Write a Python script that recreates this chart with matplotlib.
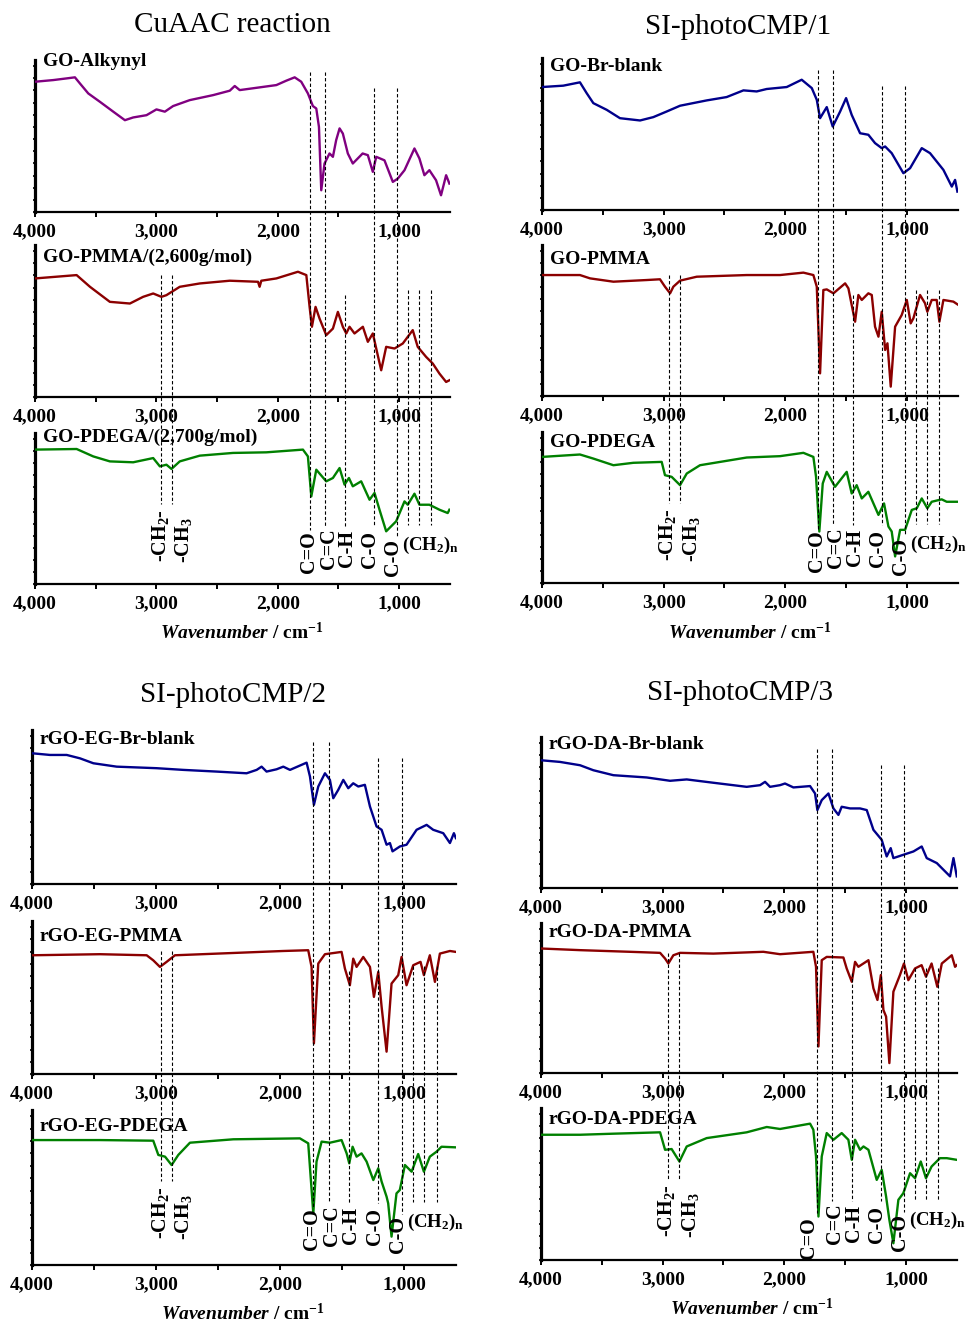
import matplotlib
matplotlib.use("Agg")
import matplotlib.pyplot as plt
from matplotlib.ticker import MultipleLocator, FuncFormatter

plt.rcParams["font.family"] = ["Liberation Serif", "DejaVu Serif"]
plt.rcParams["font.weight"] = "bold"
plt.rcParams["mathtext.fontset"] = "custom"
plt.rcParams["mathtext.default"] = "regular"
plt.rcParams["mathtext.rm"] = "Liberation Serif:bold"
plt.rcParams["mathtext.it"] = "Liberation Serif:italic:bold"

# ---------------- data (wavenumber / cm-1, transmittance a.u.) ----------------
# CuAAC reaction
go_alkynyl_wn = [4000, 3849, 3739, 3671, 3630, 3561, 3465, 3355, 3259, 3191, 3081, 2999, 2930, 2862,
                 2725, 2532, 2395, 2354, 2313, 2148, 2011, 1929, 1860, 1806, 1751, 1710, 1682, 1660,
                 1641, 1614, 1573, 1545, 1518, 1490, 1463, 1422, 1381, 1300, 1257, 1216, 1188, 1120,
                 1051, 1010, 955, 873, 832, 791, 750, 695, 654, 612, 585]
go_alkynyl_t = [85.7, 86.8, 87.9, 88.6, 84.6, 78, 72.5, 66, 60.4, 62.2, 63.7, 67.5, 66, 69.7,
                73.6, 76.9, 79.8, 82.9, 80.2, 82, 83.5, 86.4, 88.6, 85.7, 78, 69.7, 68.1, 56,
                14.3, 31.9, 38.5, 36.3, 47.3, 55, 51.6, 38.5, 31.9, 38.5, 37.4, 26.4, 36.3, 34,
                19.8, 22, 27.5, 41.8, 35.2, 24.2, 27.5, 20.9, 11, 24.2, 18.7]

go_pmma_2600_wn = [4000, 3657, 3547, 3383, 3218, 3109, 3026, 2958, 2917, 2807, 2642, 2395, 2162, 2149,
                   2135, 2011, 1833, 1764, 1737, 1718, 1688, 1655, 1600, 1545, 1504, 1463, 1435, 1408,
                   1367, 1298, 1257, 1216, 1188, 1147, 1106, 1037, 969, 887, 846, 777, 722, 667, 612, 585]
go_pmma_2600_t = [78, 80.2, 72.5, 62.6, 61.5, 65.9, 68.1, 65.9, 67, 72.5, 74.7, 76.5, 75.8, 72.5,
                  76.5, 78, 82.4, 80.2, 59.3, 46.2, 59.3, 51.6, 40.7, 45, 56, 46.2, 41.8, 46.2,
                  41.8, 46.2, 36.3, 41.8, 31.9, 17.6, 33, 31.9, 35.2, 44, 33, 26.4, 22, 15.4, 9.9, 11]

go_pdega_2700_wn = [4000, 3657, 3520, 3383, 3191, 3026, 2971, 2917, 2875, 2807, 2642, 2368, 2094,
                    1792, 1751, 1723, 1682, 1600, 1545, 1490, 1449, 1413, 1381, 1312, 1243, 1202,
                    1161, 1106, 1024, 955, 928, 873, 832, 750, 667, 599, 585]
go_pdega_2700_t = [89, 89.4, 84.5, 81.2, 80.6, 83.4, 77.9, 79, 76.2, 81.2, 85, 86.8, 87.2,
                   89, 84.5, 58, 75.7, 68, 70.2, 76.8, 65.8, 70.2, 64.7, 68, 55.8, 60.3,
                   49.2, 34.9, 41.5, 54.7, 52.5, 59.8, 52.5, 52.5, 49.2, 47, 49.2]

# SI-photoCMP/1
go_br_blank_wn = [4000, 3825, 3688, 3633, 3578, 3468, 3359, 3194, 3085, 2975, 2865, 2646, 2482, 2344,
                  2235, 2153, 1988, 1865, 1782, 1741, 1714, 1659, 1610, 1549, 1500, 1454, 1385, 1317,
                  1262, 1207, 1179, 1125, 1029, 974, 878, 810, 700, 631, 604, 585]
go_br_blank_t = [80.9, 81.8, 84, 76.9, 70.3, 65.9, 60.4, 58.9, 61.1, 64.8, 68.6, 72.1, 74.3, 78.7,
                 78, 79.6, 80.9, 85.7, 80.2, 72.5, 60.4, 67.7, 54.9, 64.8, 73.6, 62.6, 50.5, 49.5,
                 44, 40.7, 41.8, 37.4, 24.2, 27.5, 40.7, 37.4, 26.4, 15.4, 19.8, 12.1]

go_pmma_wn = [4000, 3688, 3605, 3413, 3139, 3030, 2989, 2947, 2920, 2865, 2728, 2317, 2043, 1851,
              1769, 1741, 1714, 1687, 1659, 1604, 1508, 1481, 1454, 1426, 1399, 1371, 1317, 1289,
              1262, 1234, 1207, 1179, 1160, 1133, 1097, 1043, 1001, 969, 947, 892, 851, 832,
              796, 755, 733, 700, 618, 577]
go_pmma_t = [80.1, 80.1, 77.9, 75.7, 76.8, 77.3, 72.4, 68, 72.4, 76.4, 79, 80.1, 80.1, 81.7,
             80.1, 72.4, 15, 70.2, 70.6, 68, 74.6, 71.3, 60.3, 49.2, 66.9, 63.6, 68, 66.9,
             45.9, 39.3, 55.8, 30.5, 34.9, 6.2, 45.9, 53.6, 63.6, 48.1, 51.4, 66.9, 61.4, 55.8,
             63.6, 63.6, 49.2, 63.6, 62.5, 60.3]

go_pdega_wn = [4000, 3688, 3578, 3413, 3249, 3016, 2989, 2934, 2865, 2810, 2701, 2317, 2043, 1851,
               1769, 1747, 1720, 1692, 1659, 1591, 1495, 1454, 1413, 1371, 1317, 1234, 1188, 1152,
               1125, 1097, 1056, 1015, 960, 919, 878, 832, 796, 714, 673, 577]
go_pdega_t = [83.5, 85.1, 82.4, 78, 79.6, 80.2, 71.4, 70.3, 64.8, 72.5, 78, 83.1, 84, 86.2,
              83.5, 70.3, 34.1, 65.9, 73.6, 63.7, 73.6, 59.3, 64.8, 56, 60.4, 45.1, 52.7, 37.4,
              34.1, 17.6, 35.2, 35.2, 48.4, 49.5, 56, 49.5, 53.8, 55.4, 53.8, 53.8]

# SI-photoCMP/2
rgo_eg_br_blank_wn = [4000, 3855, 3720, 3613, 3505, 3317, 2995, 2780, 2511, 2269, 2188, 2148, 2108,
                      2027, 1973, 1919, 1785, 1758, 1726, 1691, 1637, 1597, 1570, 1530, 1489, 1449,
                      1409, 1368, 1315, 1274, 1221, 1180, 1140, 1113, 1092, 1032, 979, 898, 817,
                      764, 683, 629, 597, 581]
rgo_eg_br_blank_t = [84.9, 83.8, 83.8, 81.6, 78.4, 76.2, 75.2, 74.1, 73, 71.9, 74.1, 76.2, 73,
                     74.5, 76.2, 74.1, 78.8, 69.8, 51.4, 63.3, 71.9, 67.6, 55.7, 61.1, 67.6, 62.2,
                     65.4, 63.3, 64.4, 50.3, 37.4, 35.2, 25.5, 26.6, 21.2, 24.4, 25.5, 35.2, 38.4,
                     35.2, 33, 26.6, 33, 29.8]

rgo_eg_pmma_wn = [4000, 3452, 3075, 3022, 2968, 2914, 2847, 2376, 1973, 1772, 1745, 1726, 1691,
                  1637, 1503, 1476, 1436, 1409, 1382, 1328, 1274, 1242, 1207, 1180, 1140, 1100,
                  1046, 1019, 979, 925, 866, 839, 791, 750, 710, 629, 581]
rgo_eg_pmma_t = [77.6, 78.3, 77.6, 74.3, 70, 73.3, 77.6, 79.1, 80.4, 80.9, 70, 20, 72.2,
                 78.3, 79.8, 68.9, 58, 75.4, 70, 76.5, 70, 50.4, 66.7, 43.9, 14.6, 59.1,
                 64.6, 76.5, 58, 71.1, 73.3, 64.6, 77.6, 60.2, 78.7, 80.4, 79.8]

rgo_eg_pdega_wn = [4000, 3452, 3022, 2981, 2927, 2874, 2820, 2726, 2376, 1839, 1772, 1731, 1705,
                   1664, 1597, 1503, 1462, 1441, 1414, 1382, 1342, 1301, 1247, 1207, 1180, 1140,
                   1127, 1100, 1060, 1033, 992, 938, 885, 839, 791, 737, 697, 581]
rgo_eg_pdega_t = [80.6, 80.6, 80.2, 71, 69.9, 64.5, 71, 78.9, 81.1, 81.7, 78.5, 33.3, 66.7,
                  79.6, 78.9, 80.6, 72, 65.6, 76.3, 69.9, 72, 66.7, 54.8, 62.4, 53.8, 44.1,
                  39.8, 18.3, 46.2, 48.4, 64.5, 60.2, 71.6, 60.2, 69.9, 73.1, 76.3, 75.9]

# SI-photoCMP/3
rgo_da_br_blank_wn = [4000, 3844, 3679, 3570, 3405, 3131, 2939, 2802, 2583, 2309, 2199, 2158, 2117,
                      2035, 1994, 1925, 1788, 1747, 1728, 1692, 1637, 1596, 1555, 1528, 1459, 1377,
                      1322, 1267, 1199, 1158, 1125, 1103, 1021, 938, 870, 829, 746, 678, 637, 609, 582]
rgo_da_br_blank_t = [84.6, 83.5, 81.3, 78, 74.7, 73.2, 71, 71.9, 69.7, 67, 68.1, 70.3, 67,
                     68.1, 69.2, 66.6, 67.5, 62.6, 51.6, 58.2, 62.6, 52.7, 48.4, 53.8, 52.7, 52.7,
                     51.6, 38.5, 31.9, 20.9, 26.4, 19.8, 22, 24.2, 27.5, 19.8, 16.5, 11, 7.7, 19.8, 7.7]

rgo_da_pmma_wn = [4000, 3679, 3268, 3021, 2980, 2953, 2912, 2857, 2583, 2172, 2035, 1761, 1739,
                  1719, 1692, 1651, 1514, 1487, 1445, 1418, 1391, 1308, 1267, 1234, 1206, 1185,
                  1163, 1136, 1103, 1049, 1016, 980, 925, 871, 835, 789, 742, 705, 623, 596, 582]
rgo_da_pmma_t = [83, 81.9, 80.8, 80.1, 76.3, 73, 78.5, 80.1, 79.6, 80.8, 79.2, 80.8, 70.8,
                 17.7, 75.2, 77.4, 77, 69.7, 60.8, 74.1, 70.8, 75.2, 56.4, 48.7, 65.3, 42,
                 37.6, 6.6, 54.2, 65.3, 73, 61.9, 69.7, 71.9, 64.2, 73, 57.5, 73, 78.5, 70.8, 71.9]

rgo_da_pdega_wn = [4000, 3679, 3405, 3021, 2980, 2926, 2862, 2802, 2638, 2309, 2144, 2035, 1788,
                   1761, 1739, 1719, 1692, 1651, 1596, 1528, 1473, 1445, 1418, 1377, 1349, 1308,
                   1240, 1199, 1163, 1136, 1103, 1062, 1021, 966, 925, 878, 835, 789, 720, 664, 582]
rgo_da_pdega_t = [82.4, 82.4, 83.1, 84, 72.5, 73, 64.8, 74.7, 80.2, 84, 87.5, 86.2, 89.7,
                  85.7, 68.1, 28.6, 68.1, 83.5, 79.1, 83.5, 79.1, 65.9, 79.1, 72.5, 74.7, 72.5,
                  52.7, 59.3, 41.8, 26.4, 11, 39.6, 44, 57.1, 53.8, 64.8, 53.8, 61.5, 67, 67, 65.9]

panel_titles = ["CuAAC reaction", "SI-photoCMP/1", "SI-photoCMP/2", "SI-photoCMP/3"]
sample_names = [["GO-Alkynyl", "GO-PMMA/(2,600g/mol)", "GO-PDEGA/(2,700g/mol)"],
                ["GO-Br-blank", "GO-PMMA", "GO-PDEGA"],
                ["rGO-EG-Br-blank", "rGO-EG-PMMA", "rGO-EG-PDEGA"],
                ["rGO-DA-Br-blank", "rGO-DA-PMMA", "rGO-DA-PDEGA"]]
spectra = [[(go_alkynyl_wn, go_alkynyl_t), (go_pmma_2600_wn, go_pmma_2600_t), (go_pdega_2700_wn, go_pdega_2700_t)],
           [(go_br_blank_wn, go_br_blank_t), (go_pmma_wn, go_pmma_t), (go_pdega_wn, go_pdega_t)],
           [(rgo_eg_br_blank_wn, rgo_eg_br_blank_t), (rgo_eg_pmma_wn, rgo_eg_pmma_t), (rgo_eg_pdega_wn, rgo_eg_pdega_t)],
           [(rgo_da_br_blank_wn, rgo_da_br_blank_t), (rgo_da_pmma_wn, rgo_da_pmma_t), (rgo_da_pdega_wn, rgo_da_pdega_t)]]

# band assignments
peak_wn = [2960, 2868, 1730, 1606, 1447, 1208, 1017, 925, 835, 734]
peak_labels = ["-CH$_2$-", "-CH$_3$", "C=O", "C=C", "C-H", "C-O", "C-O", "", "", ""]
chain_label = "(CH$_2$)$_n$"

colors = ["#800080", "#00008B", "#8B0000", "#008000"]  # alkynyl, blank, PMMA, PDEGA

# ---------------- layout (pixels) ----------------
W, H = 968, 1322
panels = [
    dict(left=35, right=450, tops=(60, 245, 433), bots=(212, 397, 584),
         title_xy=(232, 25), xlab_xy=(242, 632), name_dy=(-3, 8, 0)),
    dict(left=542, right=958, tops=(58, 245, 432), bots=(210, 396, 583),
         title_xy=(738, 27), xlab_xy=(750, 632), name_dy=(4, 10, 6)),
    dict(left=32, right=456, tops=(730, 921, 1110), bots=(884, 1074, 1265),
         title_xy=(233, 695), xlab_xy=(243, 1313), name_dy=(5, 11, 12)),
    dict(left=541, right=957, tops=(737, 923, 1108), bots=(888, 1073, 1260),
         title_xy=(740, 693), xlab_xy=(752, 1308), name_dy=(3, 5, 7)),
]
XMIN, XMAX = 4000, 580

# dashed line start: (subplot index, px below its top); end: px below top of last subplot
line_start = [(1, 30), (1, 30), (0, 12), (0, 12), (1, 50), (0, 28), (0, 28), (1, 45), (1, 45), (1, 45)]
line_end = [71, 71, 97, 93, 93, 93, 104, 92, 92, 92]
label_x = [2965, 2775, 1740, 1580, 1430, 1236, 1050]
label_top = [76, 84, 98, 95, 97, 98, 106]


def px_rect(left, right, top, bottom):
    return [left / W, 1 - bottom / H, (right - left) / W, (bottom - top) / H]


fig = plt.figure(figsize=(W / 100, H / 100), dpi=100)

for p, (pan, title, names, specs) in enumerate(zip(panels, panel_titles, sample_names, spectra)):
    for k in range(3):
        ax = fig.add_axes(px_rect(pan["left"], pan["right"], pan["tops"][k], pan["bots"][k]))
        wn, t = specs[k]
        col = colors[0] if (p == 0 and k == 0) else colors[k + 1]
        ax.plot(wn, t, color=col, lw=1.7, zorder=3)
        ax.set_xlim(XMIN, XMAX)
        ax.set_ylim(0, 100)
        ax.spines[["top", "right"]].set_visible(False)
        ax.spines["left"].set_linewidth(2.3)
        ax.spines["bottom"].set_linewidth(1.6)
        ax.xaxis.set_major_locator(MultipleLocator(1000))
        ax.xaxis.set_minor_locator(MultipleLocator(500))
        ax.xaxis.set_major_formatter(FuncFormatter(lambda v, pos: f"{int(v):,}"))
        ax.tick_params(axis="x", which="both", direction="out", length=3.5, width=1.4,
                       pad=4.5, labelsize=14)
        ax.yaxis.set_major_locator(MultipleLocator(8))
        ax.tick_params(axis="y", which="both", direction="inout", length=3, width=1.2,
                       labelleft=False)
        ax.patch.set_alpha(0)
        dy = pan["name_dy"][k] - 4
        ax.text(8 / (pan["right"] - pan["left"]), 1 - dy / (pan["bots"][k] - pan["tops"][k]),
                names[k], transform=ax.transAxes, ha="left", va="top", fontsize=14)

    # overlay for the dashed band markers, y in figure pixels
    ov = fig.add_axes(px_rect(pan["left"], pan["right"], 0, H))
    ov.set_xlim(XMIN, XMAX)
    ov.set_ylim(H, 0)
    ov.axis("off")
    ctop = pan["tops"][2]
    for i, x in enumerate(peak_wn):
        sk, soff = line_start[i]
        y0 = pan["tops"][sk] + soff
        y1 = ctop + line_end[i]
        if p == 3 and i == 2:
            y1 = ctop + 105
        ov.plot([x, x], [y0, y1], color="k", lw=0.8, ls=(0, (3, 2)), zorder=1)
    for i, s in enumerate(peak_labels[:7]):
        lx, ly = label_x[i], ctop + label_top[i]
        if p == 3 and i == 2:
            lx, ly = 1800, ctop + 109
        ov.text(lx, ly, s, rotation=90, ha="center", va="top", fontsize=14.5)
    ov.text(975, ctop + 112, chain_label, ha="left", va="center", fontsize=13.5, clip_on=False)

    fig.text(pan["title_xy"][0] / W, 1 - pan["title_xy"][1] / H, title, ha="center", va="center",
             fontsize=21, fontweight="normal")
    fig.text(pan["xlab_xy"][0] / W, 1 - pan["xlab_xy"][1] / H, r"$\mathit{Wavenumber}$ / cm$^{-1}$",
             ha="center", va="center", fontsize=14)

fig.savefig("out.png", dpi=100)
